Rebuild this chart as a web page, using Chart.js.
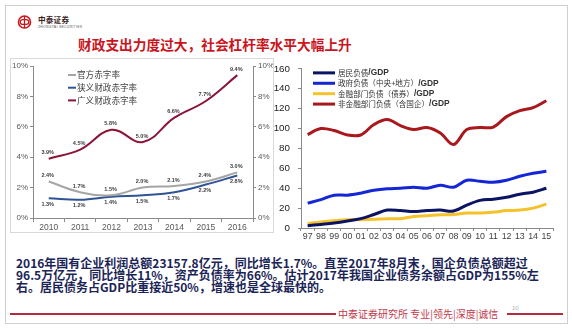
<!DOCTYPE html>
<html>
<head>
<meta charset="utf-8">
<script src="https://cdn.jsdelivr.net/npm/chart.js@4.4.1/dist/chart.umd.min.js"></script>
<style>
  html, body { margin: 0; padding: 0; background: #fff; }
  body { width: 572px; height: 329px; position: relative; overflow: hidden;
         font-family: "Noto Sans CJK SC", "Noto Sans", sans-serif; }
  .frame { position: absolute; left: 5px; top: 5px; width: 563px; height: 319px;
           box-sizing: border-box; border: 1px solid #cfcfcf; }
  .logo { position: absolute; left: 17px; top: 15px; }
  .brand { position: absolute; left: 38px; top: 15px; font-size: 7.6px; line-height: 10px;
           font-weight: 700; color: #3a1c1c; letter-spacing: 0.2px; }
  .brand-en { position: absolute; left: 38px; top: 25px; font-family: "Liberation Sans", sans-serif;
              font-size: 3.4px; line-height: 4px; color: #555; letter-spacing: 0.3px; }
  .title { position: absolute; left: 78px; top: 36px; font-size: 13.7px; line-height: 17px;
           font-weight: 700; color: #c9161e; white-space: nowrap; }
  .box { position: absolute; left: 10px; top: 58px; width: 264px; height: 175px;
         box-sizing: border-box; border: 1px solid #d9d9d9; }
  canvas { position: absolute; }
  .notes { position: absolute; left: 16px; top: 257px; font-size: 12px; line-height: 12px;
           font-weight: 700; color: #1a2456; white-space: nowrap; }
  .rule { position: absolute; top: 313px; height: 2px; background: #b42a40; }
  .footer { position: absolute; left: 338px; top: 307px; font-size: 10px; line-height: 14px;
            color: #c23a4c; white-space: nowrap; }
  .pageno { position: absolute; left: 512px; top: 305px; font-family: "Liberation Sans", sans-serif;
            font-size: 6px; line-height: 7px; color: #b0b0b0; }
</style>
</head>
<body>
<div class="frame"></div>
<svg class="logo" width="16" height="14" viewBox="0 0 16 14">
  <circle cx="7.5" cy="7" r="6" fill="none" stroke="#c9161e" stroke-width="1.6"/>
  <rect x="3.2" y="4.6" width="8.6" height="4.8" rx="2.4" fill="none" stroke="#c9161e" stroke-width="1.3"/>
  <line x1="7.5" y1="1" x2="7.5" y2="13" stroke="#c9161e" stroke-width="1.3"/>
</svg>
<div class="brand">中泰证券</div>
<div class="brand-en">ZHONGTAI SECURITIES</div>
<div class="title">财政支出力度过大，社会杠杆率水平大幅上升</div>
<div class="box"></div>
<canvas id="deficitChart" width="263" height="174" style="left:10px;top:58px"></canvas>
<canvas id="debtChart" width="290" height="190" style="left:273px;top:55px"></canvas>
<div class="notes">
  <div>2016年国有企业利润总额23157.8亿元，同比增长1.7%。直至2017年8月末，国企负债总额超过</div>
  <div>96.5万亿元，同比增长11%，资产负债率为66%。估计2017年我国企业债务余额占GDP为155%左</div>
  <div>右。居民债务占GDP比重接近50%，增速也是全球最快的。</div>
</div>
<div class="rule" style="left:10px;width:326px"></div>
<div class="rule" style="left:507px;width:56px"></div>
<div class="footer">中泰证券研究所 专业|领先|深度|诚信</div>
<div class="pageno">10</div>

<script>
// Deficit ratios (% of GDP), 2010-2016
const deficitYears = ['2010', '2011', '2012', '2013', '2014', '2015', '2016'];
const officialDeficit = [2.4, 1.7, 1.5, 2.0, 2.1, 2.4, 3.0];
const narrowDeficit = [1.3, 1.2, 1.4, 1.5, 1.7, 2.2, 2.8];
const broadDeficit = [3.9, 4.5, 5.8, 5.0, 6.6, 7.7, 9.4];
const deficitTicks = [0, 2, 4, 6, 8, 10];

// Debt by sector (% of GDP), 1997-2015
const debtYears = ['97', '98', '99', '00', '01', '02', '03', '04', '05', '06',
                   '07', '08', '09', '10', '11', '12', '13', '14', '15'];
const householdDebt = [2.3, 3.6, 5.0, 7.0, 9.4, 13.6, 18.0, 17.5, 16.5, 17.5,
                       18.0, 17.0, 23.0, 27.8, 29.0, 31.0, 34.0, 36.0, 40.0];
const governmentDebt = [25.0, 28.5, 33.0, 33.0, 35.0, 38.0, 39.5, 40.0, 41.0, 40.0,
                        43.0, 41.0, 48.0, 47.0, 46.0, 48.0, 52.0, 55.0, 57.0];
const financialDebt = [4.6, 6.0, 7.4, 8.4, 8.4, 8.7, 9.4, 9.4, 11.6, 12.3,
                       13.3, 13.6, 15.0, 15.0, 16.0, 17.5, 18.0, 20.0, 24.0];
const nonFinancialDebt = [94.0, 100.0, 98.0, 93.5, 93.5, 104.0, 109.0, 103.0, 99.0, 101.0,
                          95.5, 84.0, 99.0, 101.0, 101.5, 112.0, 118.0, 121.0, 128.0];
const debtTicks = [0, 20, 40, 60, 80, 100, 120, 140, 160];

const AXIS = '#8a8a8a';
const LATIN = '"Liberation Sans", Arial, sans-serif';
const CJK = '"Noto Sans CJK SC", sans-serif';

// Value captions beside each point of the deficit lines
const pointValueLabels = {
  id: 'pointValueLabels',
  afterDatasetsDraw(chart, args, o) {
    const ctx = chart.ctx;
    ctx.save();
    ctx.font = o.font;
    ctx.fillStyle = o.color;
    ctx.textAlign = 'center';
    ctx.textBaseline = 'middle';
    chart.data.datasets.forEach((ds, i) => {
      if (!ds.valueSide) return;
      chart.getDatasetMeta(i).data.forEach((pt, j) => {
        const dy = ds.valueSide === 'above' ? -o.offset : o.offset;
        ctx.fillText(ds.data[j].toFixed(1) + '%', pt.x + o.dx, pt.y + dy);
      });
    });
    ctx.restore();
  }
};

// Key drawn inside the plot area, one row per series
const seriesKey = {
  id: 'seriesKey',
  afterDraw(chart, args, o) {
    const { ctx, chartArea } = chart;
    ctx.save();
    ctx.textBaseline = 'middle';
    ctx.textAlign = 'left';
    chart.data.datasets.forEach((ds, i) => {
      const x = chartArea.left + o.x;
      const y = chartArea.top + o.y + i * o.rowGap;
      ctx.strokeStyle = ds.borderColor;
      ctx.lineWidth = o.lineWidth;
      ctx.lineCap = 'butt';
      ctx.beginPath();
      ctx.moveTo(x, y);
      ctx.lineTo(x + o.lineLen, y);
      ctx.stroke();
      ctx.fillStyle = o.color;
      let tx = x + o.lineLen + o.gap;
      let text = ds.label;
      let suffix = '';
      if (o.suffix && text.endsWith(o.suffix)) {
        suffix = o.suffix;
        text = text.slice(0, -suffix.length);
      }
      ctx.font = o.font;
      ctx.fillText(text, tx, y);
      if (suffix) {
        tx += ctx.measureText(text).width;
        ctx.font = o.suffixFont;
        ctx.fillText(suffix, tx, y);
      }
    });
    ctx.restore();
  }
};

function fixedTicks(values) {
  return scale => { scale.ticks = values.map(v => ({ value: v })); };
}

function valueAxis(position, width, values, fmt, font, color, pad) {
  return {
    position,
    min: values[0],
    max: values[values.length - 1],
    afterBuildTicks: fixedTicks(values),
    afterFit: s => { s.width = width; },
    border: { color: AXIS, width: 1 },
    grid: { drawOnChartArea: false, drawTicks: true, tickLength: 3, color: AXIS },
    ticks: { callback: fmt, font, color, padding: pad }
  };
}

new Chart(document.getElementById('deficitChart'), {
  type: 'line',
  data: {
    labels: deficitYears,
    datasets: [
      { label: '官方赤字率', data: officialDeficit, borderColor: '#a5a5a5', valueSide: 'above' },
      { label: '狭义财政赤字率', data: narrowDeficit, borderColor: '#2f5496', valueSide: 'below' },
      { label: '广义财政赤字率', data: broadDeficit, borderColor: '#8b1538', valueSide: 'above' }
    ]
  },
  options: {
    responsive: false,
    animation: false,
    layout: { padding: { top: 8, left: 0, right: 0, bottom: 0 } },
    elements: {
      line: { borderWidth: 2, tension: 0.4, fill: false },
      point: { radius: 0, hoverRadius: 0 }
    },
    scales: {
      x: {
        type: 'category',
        offset: true,
        afterFit: s => { s.height = 14; },
        border: { color: AXIS, width: 1 },
        grid: { offset: true, drawOnChartArea: false, tickLength: 4, color: AXIS },
        ticks: { font: { family: LATIN, size: 8.5 }, color: '#595959', padding: 1,
                 maxRotation: 0, autoSkip: false }
      },
      y: valueAxis('left', 23, deficitTicks, v => v + '%', { family: LATIN, size: 8 }, '#595959', 2),
      y1: valueAxis('right', 20, deficitTicks, v => v + '%', { family: LATIN, size: 8 }, '#595959', 2)
    },
    plugins: {
      legend: { display: false },
      tooltip: { enabled: false },
      pointValueLabels: { font: 'bold 5.5px ' + LATIN, color: '#404040', offset: 6, dx: -1 },
      seriesKey: { x: 35, y: 9, rowGap: 12.7, lineLen: 8, lineWidth: 2, gap: 1,
                   font: '8.6px ' + CJK, color: '#404040' }
    }
  },
  plugins: [pointValueLabels, seriesKey]
});

new Chart(document.getElementById('debtChart'), {
  type: 'line',
  data: {
    labels: debtYears,
    datasets: [
      { label: '居民负债/GDP', data: householdDebt, borderColor: '#0b1462' },
      { label: '政府负债（中央+地方）/GDP', data: governmentDebt, borderColor: '#1426d6' },
      { label: '金融部门负债（债券）/GDP', data: financialDebt, borderColor: '#f5c22c' },
      { label: '非金融部门负债（含国企）/GDP', data: nonFinancialDebt, borderColor: '#a8181d' }
    ]
  },
  options: {
    responsive: false,
    animation: false,
    layout: { padding: { top: 8, left: 0, right: 10, bottom: 0 } },
    elements: {
      line: { borderWidth: 3, tension: 0.35, fill: false },
      point: { radius: 0, hoverRadius: 0 }
    },
    scales: {
      x: {
        type: 'category',
        offset: true,
        afterFit: s => { s.height = 17; },
        border: { color: AXIS, width: 1 },
        grid: { offset: true, drawOnChartArea: false, tickLength: 3, color: AXIS },
        ticks: { font: { family: LATIN, size: 8.8, lineHeight: 1 }, color: '#404040', padding: 1,
                 maxRotation: 0, autoSkip: false }
      },
      y: valueAxis('left', 28, debtTicks, v => String(v), { family: LATIN, size: 9.8 }, '#222222', 8)
    },
    plugins: {
      legend: { display: false },
      tooltip: { enabled: false },
      seriesKey: { x: 12, y: 4, rowGap: 10.4, lineLen: 22, lineWidth: 3, gap: 3,
                   font: '7.6px ' + CJK, color: '#333333',
                   suffix: '/GDP', suffixFont: 'bold 8.4px ' + LATIN }
    }
  },
  plugins: [seriesKey]
});
</script>
</body>
</html>
